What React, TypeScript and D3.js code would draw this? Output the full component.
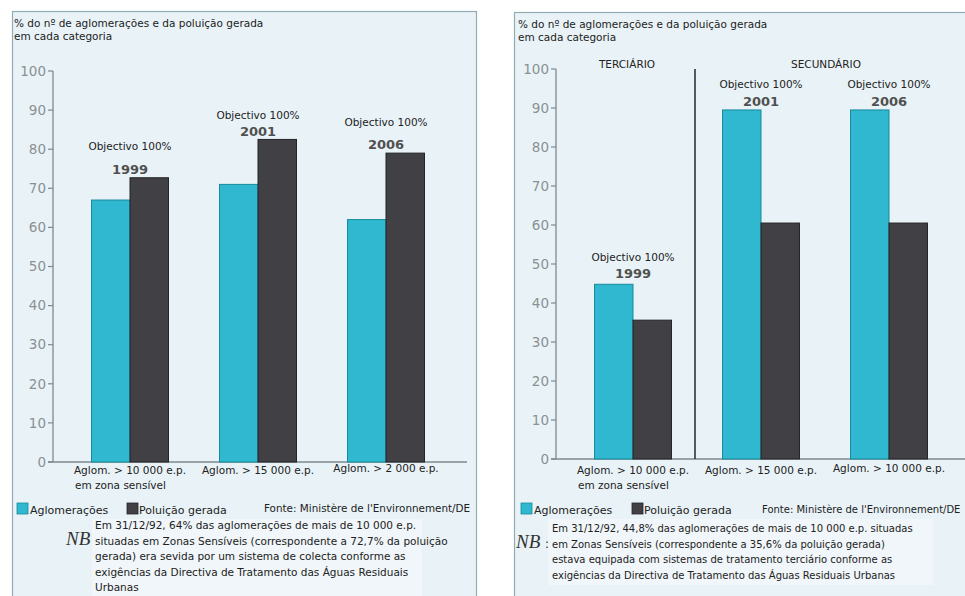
import React from "react";
import * as d3 from "d3";

// Left panel: collection systems
const leftCategories = ["Aglom. > 10 000 e.p.", "Aglom. > 15 000 e.p.", "Aglom. > 2 000 e.p."];
const leftSubLabels = ["em zona sensível", "", ""];
const leftAglomeracoes = [67, 71, 62];
const leftPoluicao = [72.7, 82.5, 79];
const leftYears = ["1999", "2001", "2006"];

// Right panel: treatment (terciário / secundário)
const rightCategories = ["Aglom. > 10 000 e.p.", "Aglom. > 15 000 e.p.", "Aglom. > 10 000 e.p."];
const rightSubLabels = ["em zona sensível", "", ""];
const rightAglomeracoes = [44.8, 89.5, 89.5];
const rightPoluicao = [35.6, 60.5, 60.5];
const rightYears = ["1999", "2001", "2006"];
const rightGroups = ["TERCIÁRIO", "SECUNDÁRIO"];

const series = ["Aglomerações", "Poluição gerada"];
const yTicks = [0, 10, 20, 30, 40, 50, 60, 70, 80, 90, 100];
const goalLabel = "Objectivo 100%";
const titleLines = ["% do nº de aglomerações e da poluição gerada", "em cada categoria"];
const sourceText = "Fonte: Ministère de l'Environnement/DE";
const leftNote = [
  "Em 31/12/92, 64% das aglomerações de mais de 10 000 e.p.",
  "situadas em Zonas Sensíveis (correspondente a 72,7% da poluição",
  "gerada) era sevida por um sistema de colecta conforme as",
  "exigências da Directiva de Tratamento das Águas Residuais",
  "Urbanas",
];
const rightNote = [
  "Em 31/12/92, 44,8% das aglomerações de mais de 10 000 e.p. situadas",
  "em Zonas Sensíveis (correspondente a 35,6% da poluição gerada)",
  "estava equipada com sistemas de tratamento terciário conforme as",
  "exigências da Directiva de Tratamento das Águas Residuais Urbanas",
];

const FONT = "'DejaVu Sans', Verdana, sans-serif";
const CYAN = "#2fb8cf";
const CYAN_EDGE = "#178a9c";
const DARK = "#414045";
const DARK_EDGE = "#252427";
const PANEL_BG = "#e9f3f7";
const PANEL_EDGE = "#93abb2";
const AXIS = "#7d8a8f";
const TICK_TEXT = "#8a9093";

type PanelProps = {
  axisX: number;
  y0: number;
  y100: number;
  centers: [number, number];
  axisEnd: number;
  categories: string[];
  subLabels: string[];
  aglo: number[];
  polu: number[];
  years: string[];
  goalY: number[];
  yearY: number[];
  catLabelY: number[];
};

function Panel(p: PanelProps) {
  const y = d3.scaleLinear().domain([0, 100]).range([p.y0, p.y100]);
  const x = d3.scalePoint<string>().domain(["0", "1", "2"]).range(p.centers);
  const inner = d3.scaleBand<string>().domain(series).range([-38.5, 38.5]).padding(0);
  const vals = [p.aglo, p.polu];
  return (
    <g>
      {/* y axis */}
      <line x1={p.axisX} x2={p.axisX} y1={y(0)} y2={y(100)} stroke={AXIS} strokeWidth={1.3} />
      <line x1={p.axisX - 5} x2={p.axisEnd} y1={y(0)} y2={y(0)} stroke={AXIS} strokeWidth={1.3} />
      {yTicks.map((t) => (
        <g key={t}>
          <line x1={p.axisX - 5} x2={p.axisX} y1={y(t)} y2={y(t)} stroke={AXIS} strokeWidth={1.2} />
          <text x={p.axisX - 7} y={y(t)} dy="0.35em" textAnchor="end" fontSize={13.5} fill={TICK_TEXT} fontFamily={FONT}>
            {t}
          </text>
        </g>
      ))}
      {/* bars */}
      {p.categories.map((c, i) => {
        const cx = x(String(i)) as number;
        return (
          <g key={i}>
            {series.map((s, k) => (
              <rect
                key={s}
                x={cx + (inner(s) as number)}
                y={y(vals[k][i])}
                width={inner.bandwidth()}
                height={y(0) - y(vals[k][i])}
                fill={k === 0 ? CYAN : DARK}
                stroke={k === 0 ? CYAN_EDGE : DARK_EDGE}
                strokeWidth={1}
              />
            ))}
            <text x={cx} y={p.goalY[i]} textAnchor="middle" fontSize={10.5} fill="#222" fontFamily={FONT}>
              {goalLabel}
            </text>
            <text x={cx} y={p.yearY[i]} textAnchor="middle" fontSize={13} fontWeight="bold" fill="#505050" fontFamily={FONT}>
              {p.years[i]}
            </text>
            <text x={cx} y={p.catLabelY[i]} textAnchor="middle" fontSize={10.5} fill="#222" fontFamily={FONT}>
              {c}
            </text>
            {p.subLabels[i] && (
              <text x={cx - 55} y={p.catLabelY[i] + 15} fontSize={10.5} fill="#222" fontFamily={FONT}>
                {p.subLabels[i]}
              </text>
            )}
          </g>
        );
      })}
    </g>
  );
}

function Legend({ ox, y, gap }: { ox: number; y: number; gap: number }) {
  return (
    <g>
      <rect x={ox} y={y - 11} width={11} height={11} fill={CYAN} stroke={CYAN_EDGE} strokeWidth={0.8} />
      <text x={ox + 13} y={y} fontSize={11} fill="#222" fontFamily={FONT}>
        {series[0]}
      </text>
      <rect x={ox + gap} y={y - 11} width={11} height={11} fill={DARK} stroke={DARK_EDGE} strokeWidth={0.8} />
      <text x={ox + gap + 12} y={y} fontSize={11} fill="#222" fontFamily={FONT}>
        {series[1]}
      </text>
    </g>
  );
}

export default function App() {
  const leftCenters: [number, number] = [130, 386];
  const rightCenters: [number, number] = [633, 889];
  const rx = d3.scalePoint<string>().domain(["0", "1", "2"]).range(rightCenters);
  const dividerX = ((rx("0") as number) + (rx("1") as number)) / 2 - 2;
  const yR = d3.scaleLinear().domain([0, 100]).range([459, 69]);

  return (
    <div style={{ position: "fixed", left: 0, top: 0 }}>
      <svg width={965} height={596} style={{ display: "block", background: "#ffffff" }}>
        {/* panel frames */}
        <rect x={12.5} y={11.5} width={464} height={600} fill={PANEL_BG} stroke={PANEL_EDGE} strokeWidth={1.2} />
        <rect x={514.5} y={12.5} width={470} height={600} fill={PANEL_BG} stroke={PANEL_EDGE} strokeWidth={1.2} />
        {/* lighter band behind notes */}
        <rect x={92} y={519} width={330} height={77} fill="#f0f6f9" />
        <rect x={548} y={519} width={385} height={66} fill="#f0f6f9" />

        {/* titles */}
        {titleLines.map((t, i) => (
          <g key={i}>
            <text x={14} y={27 + i * 13} fontSize={10.5} fill="#222" fontFamily={FONT}>
              {t}
            </text>
            <text x={518} y={28 + i * 13} fontSize={10.5} fill="#222" fontFamily={FONT}>
              {t}
            </text>
          </g>
        ))}

        <Panel
          axisX={53}
          y0={462}
          y100={71}
          centers={leftCenters}
          axisEnd={467}
          categories={leftCategories}
          subLabels={leftSubLabels}
          aglo={leftAglomeracoes}
          polu={leftPoluicao}
          years={leftYears}
          goalY={[150, 119, 126]}
          yearY={[174, 136, 149]}
          catLabelY={[474, 474, 472]}
        />
        <Panel
          axisX={556}
          y0={459}
          y100={69}
          centers={rightCenters}
          axisEnd={965}
          categories={rightCategories}
          subLabels={rightSubLabels}
          aglo={rightAglomeracoes}
          polu={rightPoluicao}
          years={rightYears}
          goalY={[261, 88, 88]}
          yearY={[278, 106, 106]}
          catLabelY={[474, 474, 472]}
        />

        {/* divider between terciário and secundário */}
        <line x1={dividerX} x2={dividerX} y1={yR(100)} y2={yR(0)} stroke="#333" strokeWidth={1.6} />
        <text x={627} y={68} textAnchor="middle" fontSize={10.5} fill="#222" fontFamily={FONT}>
          {rightGroups[0]}
        </text>
        <text x={826} y={68} textAnchor="middle" fontSize={10.5} fill="#222" fontFamily={FONT}>
          {rightGroups[1]}
        </text>

        {/* legends and source */}
        <Legend ox={17} y={514} gap={110} />
        <text x={264} y={512} fontSize={10.4} fill="#222" fontFamily={FONT}>
          {sourceText}
        </text>
        <Legend ox={521} y={514} gap={111} />
        <text x={762} y={513} fontSize={10} fill="#222" fontFamily={FONT}>
          {sourceText}
        </text>

        {/* notes */}
        <text x={66} y={545} fontSize={19} fontStyle="italic" fontFamily="'Liberation Serif', 'DejaVu Serif', serif" fill="#333">
          NB
        </text>
        {leftNote.map((l, i) => (
          <text key={i} x={95} y={529 + i * 15.5} fontSize={10.5} fill="#222" fontFamily={FONT}>
            {l}
          </text>
        ))}
        <text x={516} y={548} fontSize={19} fontStyle="italic" fontFamily="'Liberation Serif', 'DejaVu Serif', serif" fill="#333">
          NB
        </text>
        <text x={545} y={548} fontSize={12} fill="#333" fontFamily={FONT}>
          :
        </text>
        {rightNote.map((l, i) => (
          <text key={i} x={552} y={532 + i * 15.5} fontSize={10} fill="#222" fontFamily={FONT}>
            {l}
          </text>
        ))}
      </svg>
    </div>
  );
}
